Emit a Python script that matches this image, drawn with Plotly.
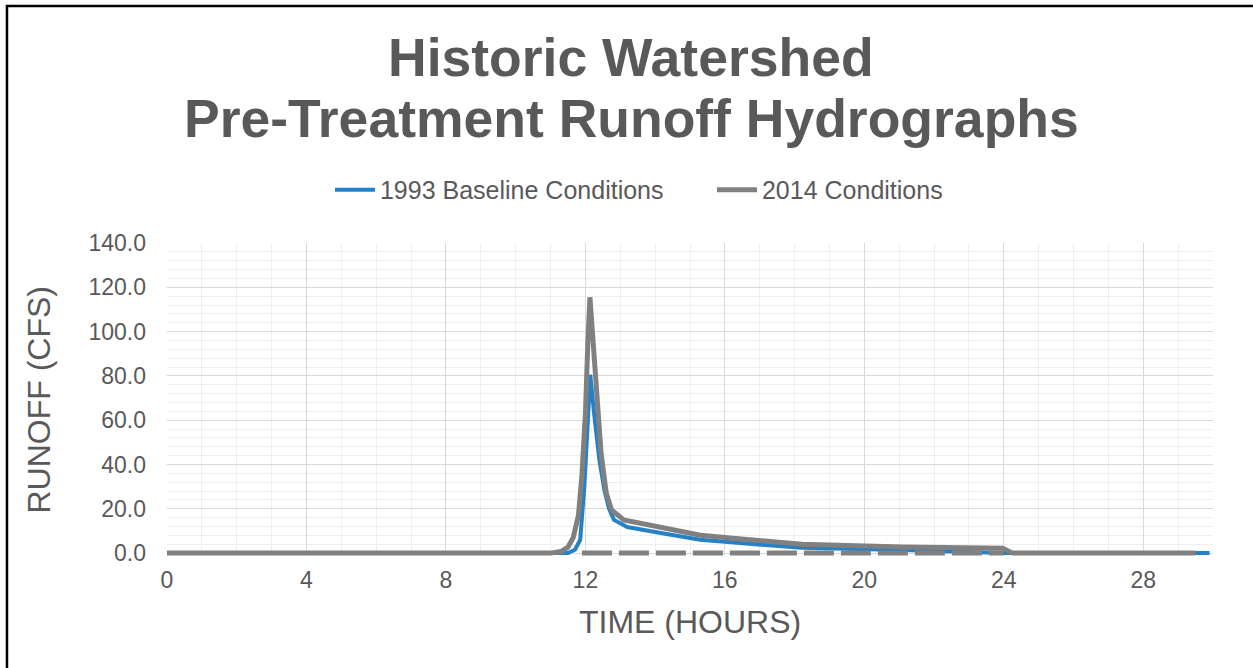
import plotly.graph_objects as go

# ---- data ----
time_1993 = [0, 11.5, 11.7, 11.85, 11.97, 12.05, 12.14, 12.25, 12.4, 12.55, 12.68, 12.82,
             13.2, 14.2, 15.3, 16.0, 18.2, 21.1, 23.0, 23.5, 24.0, 29.5, 29.9]
runoff_1993 = [0, 0, 1.5, 6, 30, 58, 80.5, 63, 42, 28, 20, 15,
               11.8, 9.0, 6.0, 5.1, 2.4, 1.4, 0.5, 0.1, 0, 0, 0]

time_2014 = [0, 11.0, 11.3, 11.5, 11.65, 11.8, 11.9, 12.0, 12.07, 12.13, 12.2, 12.3, 12.45,
             12.6, 12.75, 13.1, 14.2, 15.3, 16.0, 18.2, 21.1, 23.97, 24.25, 29.5]
runoff_2014 = [0, 0, 0.7, 2.7, 7, 17, 35, 63, 95, 115.5, 100, 75, 45,
               27, 19.5, 15, 11.3, 8.1, 7.0, 4.0, 2.8, 2.2, 0, 0]

time_zero = [11.9, 24.0]
runoff_zero = [0, 0]

x_ticks = [0, 4, 8, 12, 16, 20, 24, 28]
y_ticks = [0, 20, 40, 60, 80, 100, 120, 140]

series_names = ["1993 Baseline Conditions", "2014 Conditions"]
title_lines = ["Historic Watershed", "Pre-Treatment Runoff Hydrographs"]

BLUE = "#2381C8"
GRAY = "#808080"
TXT = "#595959"
FONT = "Liberation Sans, Arial, sans-serif"

fig = go.Figure()
fig.add_trace(go.Scatter(x=time_1993, y=runoff_1993, mode="lines", name=series_names[0],
                         line=dict(color=BLUE, width=4)))
fig.add_trace(go.Scatter(x=time_2014, y=runoff_2014, mode="lines", name=series_names[1],
                         line=dict(color=GRAY, width=5)))
fig.add_trace(go.Scatter(x=time_zero, y=runoff_zero, mode="lines", showlegend=False,
                         line=dict(color=GRAY, width=5, dash="30px,7px"), hoverinfo="skip"))

fig.update_layout(
    width=1253, height=668,
    margin=dict(l=167, r=40, t=243, b=112.1, autoexpand=False),
    paper_bgcolor="white", plot_bgcolor="white",
    font=dict(family=FONT, color=TXT),
    showlegend=True,
    legend=dict(orientation="h", x=0.1558, xanchor="left", y=1.1697, yanchor="middle",
                font=dict(size=25, color=TXT), itemwidth=40, bgcolor="rgba(0,0,0,0)",
                entrywidth=327, entrywidthmode="pixels", tracegroupgap=0),
    xaxis=dict(range=[0, 30], tickmode="array", tickvals=x_ticks,
               ticktext=[str(v) for v in x_ticks], tickfont=dict(size=23, color=TXT),
               showgrid=True, gridcolor="#D9D9D9", gridwidth=1.3, zeroline=False,
               showline=False, ticks="", ticklabelstandoff=8,
               minor=dict(dtick=1, tick0=0, showgrid=True, gridcolor="#EFEFEF", gridwidth=1.3)),
    yaxis=dict(range=[-1.3, 140], tickmode="array", tickvals=y_ticks,
               ticktext=[f"{v:.1f}" for v in y_ticks], tickfont=dict(size=23, color=TXT),
               showgrid=True, gridcolor="#D9D9D9", gridwidth=1.3, zeroline=False,
               showline=False, ticks="", ticklabelstandoff=20,
               minor=dict(dtick=4, tick0=0, showgrid=True, gridcolor="#EFEFEF", gridwidth=1.3)),
    annotations=[
        dict(text=f"<b>{title_lines[0]}</b>", xref="paper", yref="paper", x=0.4436, y=1.5928,
             xanchor="center", yanchor="middle", showarrow=False,
             font=dict(size=53.5, color=TXT, family=FONT)),
        dict(text=f"<b>{title_lines[1]}</b>", xref="paper", yref="paper", x=0.4436, y=1.3979,
             xanchor="center", yanchor="middle", showarrow=False,
             font=dict(size=53.5, color=TXT, family=FONT)),
        dict(text="TIME (HOURS)", xref="paper", yref="paper", x=0.5, y=-0.2113,
             xanchor="center", yanchor="middle", showarrow=False,
             font=dict(size=32, color=TXT, family=FONT)),
        dict(text="RUNOFF (CFS)", xref="paper", yref="paper", x=-0.1233, y=0.5,
             xanchor="center", yanchor="middle", showarrow=False, textangle=-90,
             font=dict(size=32, color=TXT, family=FONT)),
    ],
    shapes=[dict(type="rect", xref="paper", yref="paper", x0=-0.153, x1=1.1, y0=-0.5, y1=1.7574,
                 line=dict(color="black", width=2.5), fillcolor="rgba(0,0,0,0)", layer="above")],
)

fig.write_html("out.html", config={"displayModeBar": False},
               post_script="document.body.style.margin='0px';")
